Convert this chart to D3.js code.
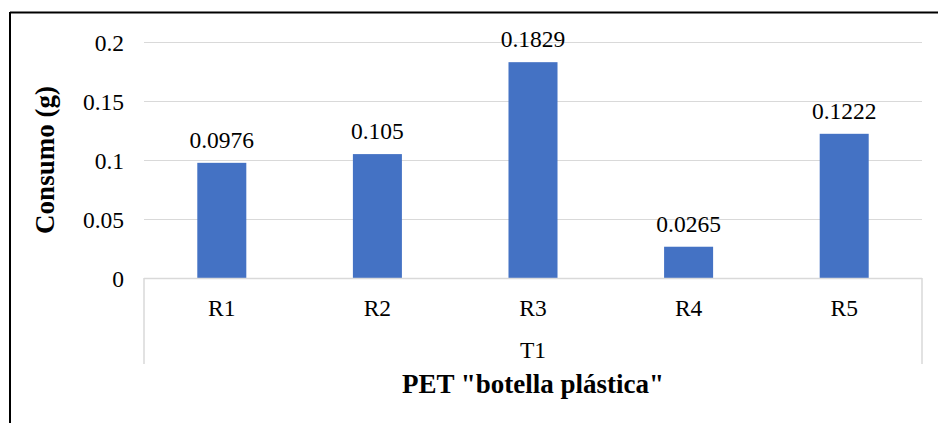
<!DOCTYPE html>
<html>
<head>
<meta charset="utf-8">
<script src="https://cdn.jsdelivr.net/npm/d3@7"></script>
<style>
  html, body { margin: 0; padding: 0; background: #fff; }
  svg { display: block; }
  text { font-family: "Liberation Serif", "Times New Roman", serif; fill: #000; }
</style>
</head>
<body>
<svg id="chart" width="938" height="423"></svg>
<script>
// Consumption per replicate (g)
const categories = ["R1", "R2", "R3", "R4", "R5"];
const values = [0.0976, 0.105, 0.1829, 0.0265, 0.1222];
const valueLabels = ["0.0976", "0.105", "0.1829", "0.0265", "0.1222"];
const yTicks = [0, 0.05, 0.1, 0.15, 0.2];
const yTickLabels = ["0", "0.05", "0.1", "0.15", "0.2"];
const groupLabel = "T1";
const xTitle = "PET \"botella plástica\"";
const yTitle = "Consumo (g)";

const svg = d3.select("#chart");
const W = 938, H = 423;
const FONT = "Liberation Serif";
const TXT = 23.5, TITLE = 27;

const plot = { left: 144, right: 922, top: 42, bottom: 278 };
const groupBottom = 364;

// outer frame: top and left edges
svg.append("line").attr("x1", 10).attr("x2", W).attr("y1", 12.5).attr("y2", 12.5)
  .attr("stroke", "#000").attr("stroke-width", 2);
svg.append("line").attr("x1", 10).attr("x2", 10).attr("y1", 12).attr("y2", H)
  .attr("stroke", "#000").attr("stroke-width", 2);

const x = d3.scaleBand().domain(categories).range([plot.left, plot.right])
  .paddingInner(0.685).paddingOuter(0.3425);
const y = d3.scaleLinear().domain([0, 0.2]).range([plot.bottom, plot.top]);

// horizontal gridlines
svg.append("g").selectAll("line").data(yTicks.slice(1)).join("line")
  .attr("x1", plot.left).attr("x2", plot.right)
  .attr("y1", d => Math.round(y(d)) + 0.5).attr("y2", d => Math.round(y(d)) + 0.5)
  .attr("stroke", "#d9d9d9").attr("stroke-width", 1);

// y tick labels
const yAxis = d3.axisLeft(y).tickValues(yTicks)
  .tickFormat((d, i) => yTickLabels[i]).tickSize(0).tickPadding(0);
const gy = svg.append("g").attr("transform", `translate(${plot.left - 20},0)`).call(yAxis);
gy.select(".domain").remove();
gy.selectAll("text").attr("font-size", TXT).attr("font-family", FONT)
  .attr("fill", "#000").attr("dy", "0.35em");

// bars
svg.append("g").selectAll("rect").data(values).join("rect")
  .attr("x", (d, i) => x(categories[i]))
  .attr("width", x.bandwidth())
  .attr("y", d => y(d))
  .attr("height", d => y(0) - y(d))
  .attr("fill", "#4472C4");

// value labels
svg.append("g").selectAll("text").data(values).join("text")
  .attr("x", (d, i) => x(categories[i]) + x.bandwidth() / 2)
  .attr("y", d => y(d) - 15)
  .attr("text-anchor", "middle")
  .attr("font-family", FONT)
  .attr("font-size", TXT)
  .text((d, i) => valueLabels[i]);

// category axis: baseline and group bracket
svg.append("line").attr("x1", plot.left).attr("x2", plot.right)
  .attr("y1", y(0) + 0.5).attr("y2", y(0) + 0.5)
  .attr("stroke", "#d9d9d9").attr("stroke-width", 1.5);
[plot.left, plot.right].forEach(px => {
  svg.append("line").attr("x1", px).attr("x2", px)
    .attr("y1", y(0)).attr("y2", groupBottom)
    .attr("stroke", "#d9d9d9").attr("stroke-width", 1.5);
});

// category labels
const xAxis = d3.axisBottom(x).tickSize(0).tickPadding(0);
const gx = svg.append("g").attr("transform", `translate(0,${y(0)})`).call(xAxis);
gx.select(".domain").remove();
gx.selectAll("text").attr("font-size", TXT).attr("font-family", FONT)
  .attr("fill", "#000").attr("dy", null).attr("y", 38);

// group label
svg.append("text").attr("x", (plot.left + plot.right) / 2).attr("y", 358)
  .attr("text-anchor", "middle").attr("font-family", FONT).attr("font-size", TXT)
  .text(groupLabel);

// axis titles
svg.append("text").attr("x", (plot.left + plot.right) / 2).attr("y", 393)
  .attr("text-anchor", "middle").attr("font-family", FONT)
  .attr("font-size", TITLE).attr("font-weight", "bold")
  .text(xTitle);
svg.append("text")
  .attr("transform", `translate(54,${(plot.top + plot.bottom) / 2}) rotate(-90)`)
  .attr("text-anchor", "middle").attr("font-family", FONT)
  .attr("font-size", TITLE).attr("font-weight", "bold")
  .text(yTitle);
</script>
</body>
</html>
